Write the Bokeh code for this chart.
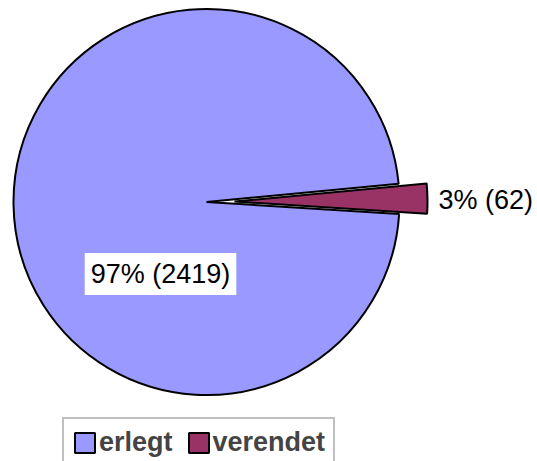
import math
from bokeh.plotting import figure
from bokeh.models import Range1d, ColumnDataSource, Legend, LegendItem, Label
from bokeh.embed import file_html
from bokeh.resources import INLINE

# ---- data ----
categories = ["erlegt", "verendet"]
counts = [2419, 62]
pct_labels = [97, 3]          # percentages as printed on the chart
colors = ["#9999FF", "#993366"]

W, H = 537, 461
p = figure(width=W, height=H, x_range=Range1d(0, W), y_range=Range1d(0, H),
           output_backend="svg", toolbar_location=None, min_border=0,
           x_axis_location=None, y_axis_location=None)
p.grid.visible = False
p.outline_line_color = None
p.background_fill_color = "white"
p.border_fill_color = "white"

cx, cy, R = 206.0, 259.5, 193.0
start0 = math.radians(5.4)
explode = [0.0, 28.0]

total = sum(counts)
angles = []
a = start0
for v in counts:
    b = a + 2 * math.pi * v / total
    angles.append((a, b))
    a = b

renderers = []
for i, (cat, v) in enumerate(zip(categories, counts)):
    s, e = angles[i]
    mid = (s + e) / 2
    x = cx + explode[i] * math.cos(mid)
    y = cy + explode[i] * math.sin(mid)
    src = ColumnDataSource(dict(x=[x], y=[y], s=[s], e=[e]))
    r = p.wedge(x="x", y="y", radius=R, start_angle="s", end_angle="e",
                source=src, fill_color=colors[i], line_color="black",
                line_width=2)
    renderers.append(r)

texts = [f"{pc}% ({v})" for pc, v in zip(pct_labels, counts)]

# label for the big slice (white box)
lab0 = Label(x=160, y=187.5, text=texts[0], text_align="center",
             text_baseline="middle", text_font="Liberation Sans",
             text_font_size="27px", text_color="black",
             background_fill_color="white", padding=6)
p.add_layout(lab0)
# label for the small slice
lab1 = Label(x=438, y=261.5, text=texts[1], text_align="left",
             text_baseline="middle", text_font="Liberation Sans",
             text_font_size="27px", text_color="black")
p.add_layout(lab1)

legend = Legend(items=[LegendItem(label=c, renderers=[r]) for c, r in zip(categories, renderers)],
                orientation="horizontal", location=(62, -7),
                label_text_font="Liberation Sans", label_text_font_style="bold",
                label_text_font_size="27px", glyph_width=25, glyph_height=25,
                label_standoff=2, spacing=13, padding=8,
                border_line_color="#808080", border_line_width=2,
                background_fill_color="white", background_fill_alpha=1.0)
p.add_layout(legend, "center")

open("out.html", "w").write(file_html(p, INLINE))
